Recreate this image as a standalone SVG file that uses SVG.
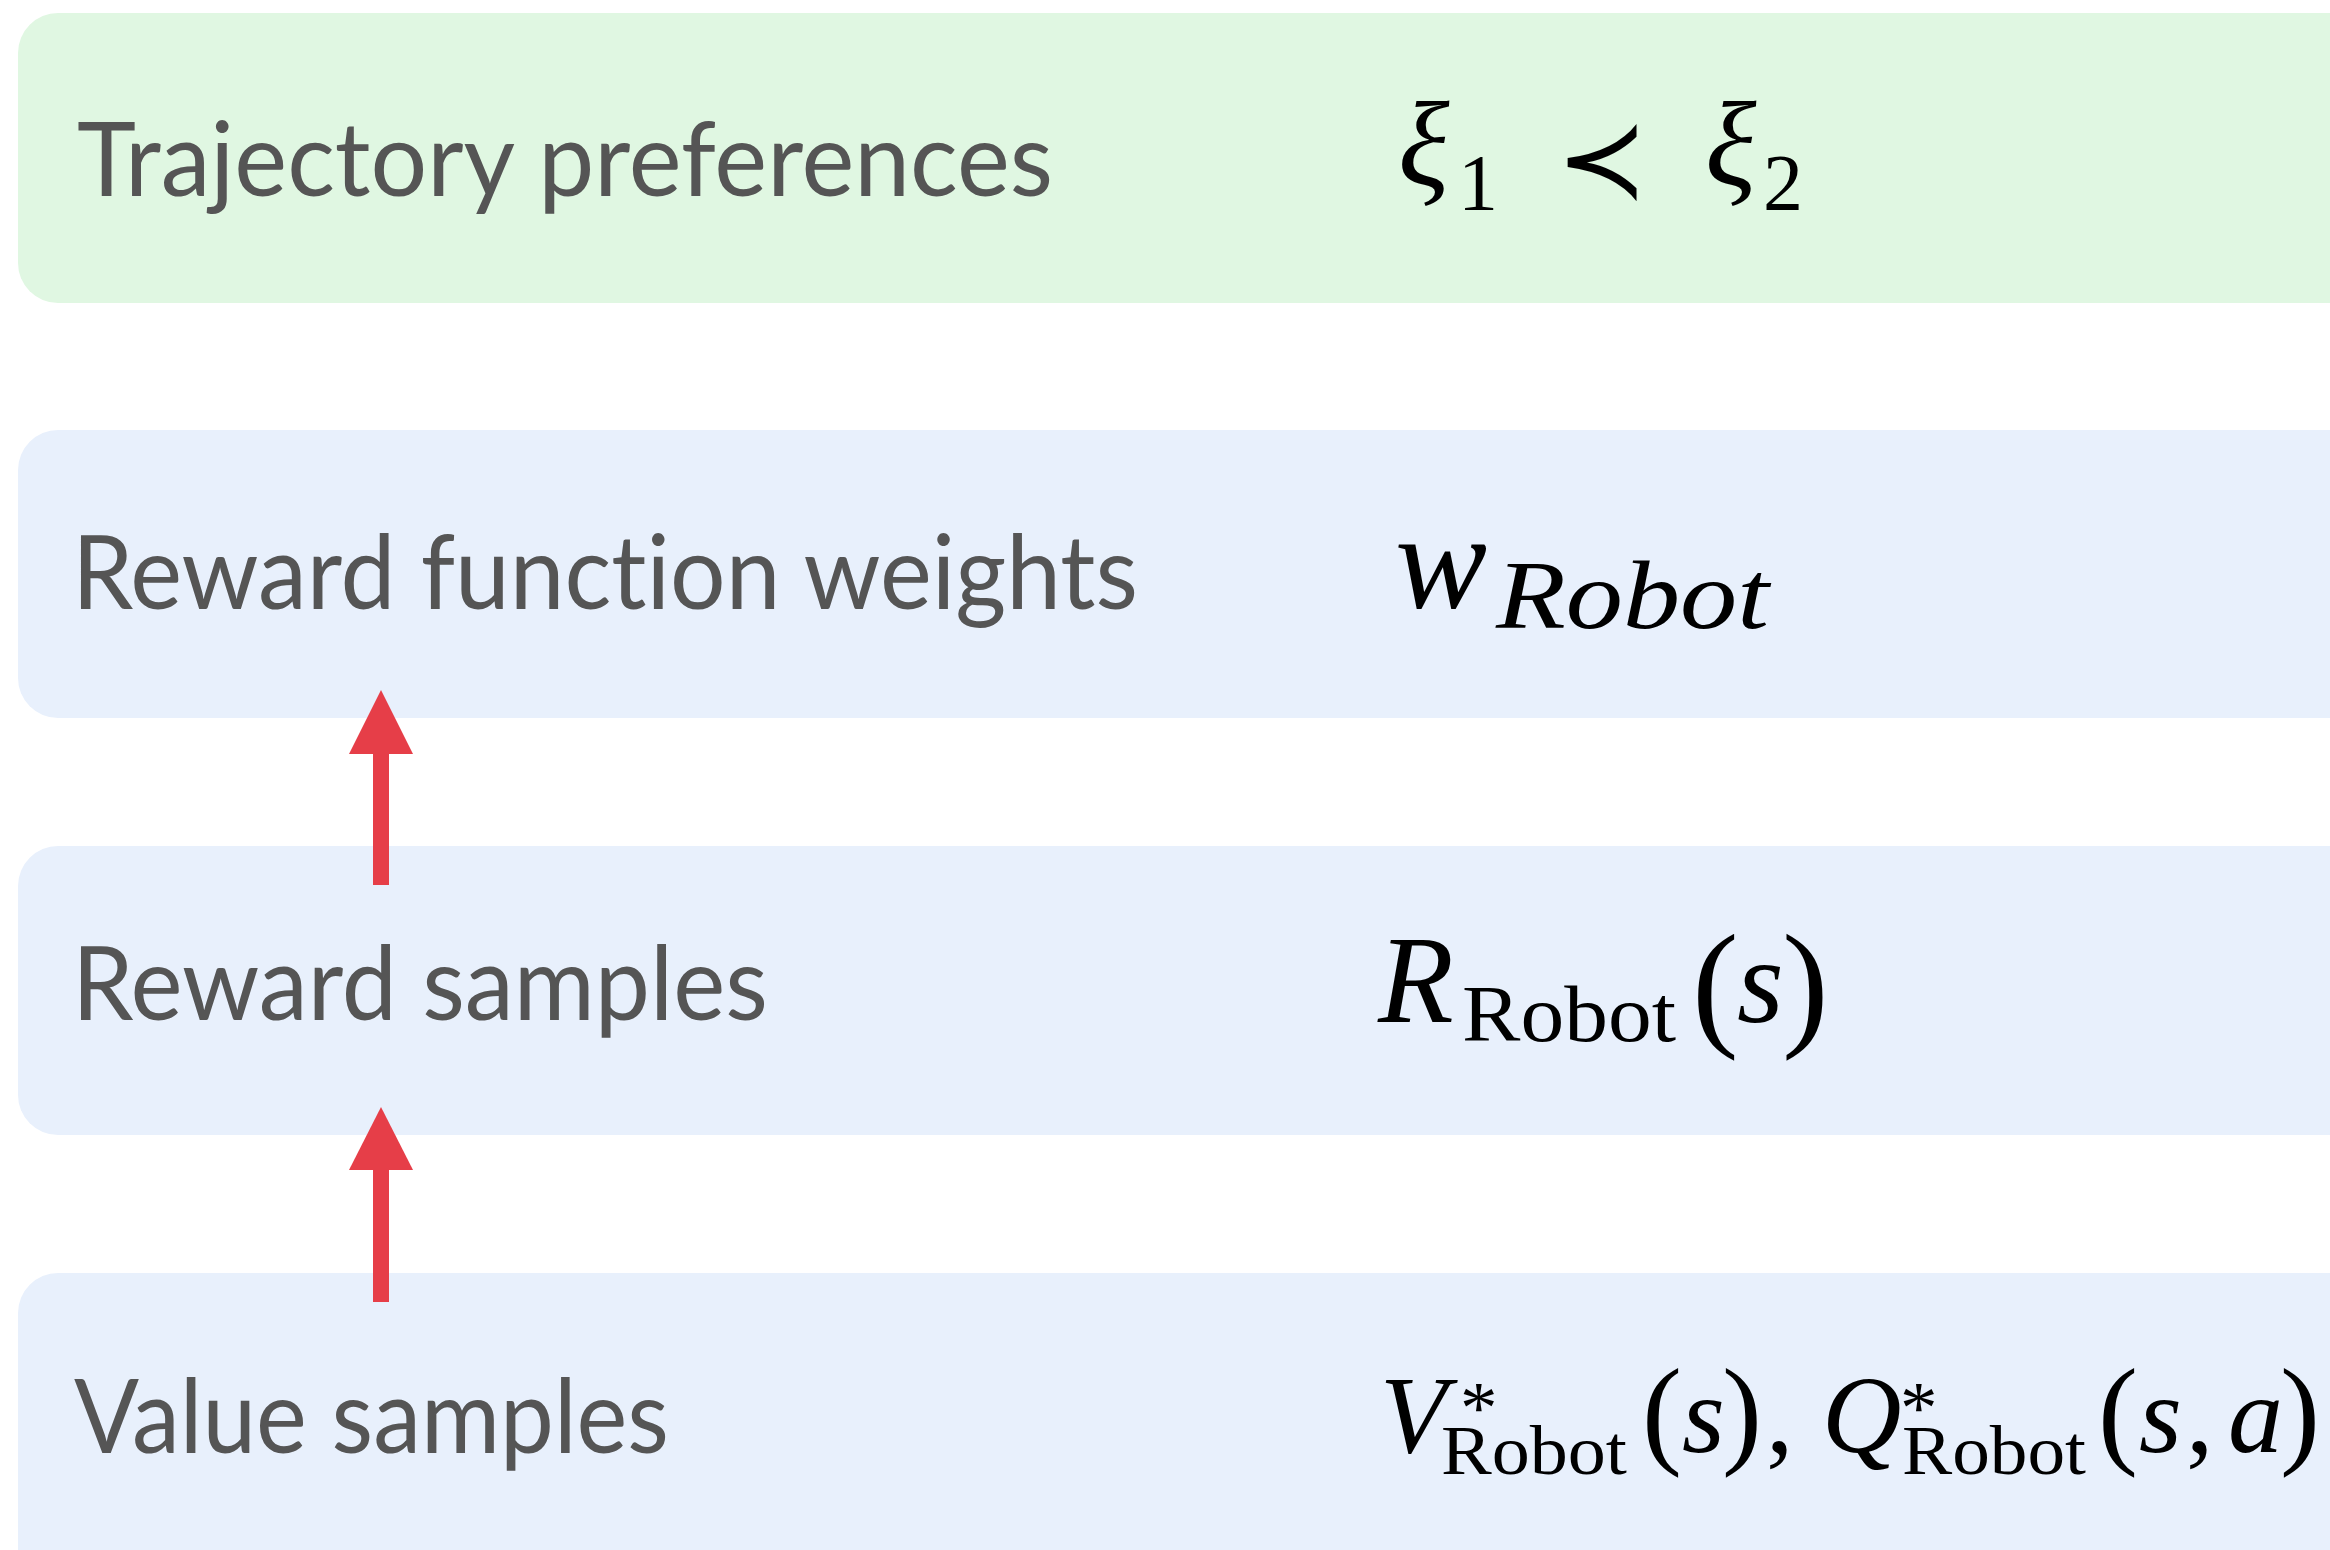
<svg xmlns="http://www.w3.org/2000/svg" width="2330" height="1550" viewBox="0 0 2330 1550">
<style>
.band-g{fill:#E0F7E2}
.band-b{fill:#E8F0FC}
.lbl{font-family:Lato,"Open Sans","Liberation Sans",sans-serif;font-size:102px;fill:#555555;font-variant-ligatures:none;font-feature-settings:"liga" 0,"clig" 0}
.m{font-family:"Liberation Serif","DejaVu Serif",serif;fill:#000}
.mi{font-family:"Liberation Serif","DejaVu Serif",serif;font-style:italic;fill:#000}
.arrow{fill:#E63E48}
</style>
<rect width="2330" height="1550" fill="#FFFFFF"/>
<g id="node-trajectory">
<rect class="band-g" x="18" y="13" width="2350" height="290" rx="40" ry="40"/>
<text class="lbl" x="77" y="196" textLength="976" lengthAdjust="spacingAndGlyphs">Trajectory preferences</text>
<text class="mi" x="1398" y="185" font-size="120">ξ</text>
<text class="m" x="1458" y="210" font-size="80">1</text>
<text class="m" x="1602" y="197" font-size="110" text-anchor="middle" style="font-family:'DejaVu Serif',serif">≺</text>
<text class="mi" x="1705" y="185" font-size="120">ξ</text>
<text class="m" x="1763" y="210" font-size="80">2</text>
</g>
<g id="node-weights">
<rect class="band-b" x="18" y="430" width="2350" height="288" rx="40" ry="40"/>
<text class="lbl" x="72" y="609" textLength="1066" lengthAdjust="spacingAndGlyphs">Reward function weights</text>
<text class="mi" x="1395" y="608" font-size="138">w</text>
<text class="mi" x="1496" y="628" font-size="98" textLength="273" lengthAdjust="spacingAndGlyphs">Robot</text>
</g>
<g id="node-reward">
<rect class="band-b" x="18" y="846" width="2350" height="289" rx="40" ry="40"/>
<text class="lbl" x="72" y="1020" textLength="696" lengthAdjust="spacingAndGlyphs">Reward samples</text>
<text class="mi" x="1378" y="1022" font-size="124">R</text>
<text class="m" x="1462" y="1041" font-size="80" textLength="214" lengthAdjust="spacingAndGlyphs">Robot</text>
<text class="m" x="1692" y="1031" font-size="140">(</text>
<text class="mi" x="1737" y="1022" font-size="120">s</text>
<text class="m" x="1782" y="1031" font-size="140">)</text>
</g>
<g id="node-value">
<rect class="band-b" x="18" y="1273" width="2350" height="320" rx="40" ry="40"/>
<text class="lbl" x="74" y="1453" textLength="595" lengthAdjust="spacingAndGlyphs">Value samples</text>
<text class="mi" x="1380" y="1452" font-size="110">V</text>
<text class="m" x="1460" y="1433" font-size="75">*</text>
<text class="m" x="1441" y="1474" font-size="70" textLength="186" lengthAdjust="spacingAndGlyphs">Robot</text>
<text class="m" x="1642" y="1452" font-size="120">(</text>
<text class="mi" x="1682" y="1452" font-size="110">s</text>
<text class="m" x="1722" y="1452" font-size="120">)</text>
<text class="m" x="1766" y="1452" font-size="110">,</text>
<text class="mi" x="1822" y="1452" font-size="110">Q</text>
<text class="m" x="1900" y="1433" font-size="75">*</text>
<text class="m" x="1902" y="1474" font-size="70" textLength="184" lengthAdjust="spacingAndGlyphs">Robot</text>
<text class="m" x="2098" y="1452" font-size="120">(</text>
<text class="mi" x="2139" y="1452" font-size="110">s</text>
<text class="m" x="2186" y="1452" font-size="110">,</text>
<text class="mi" x="2228" y="1452" font-size="110">a</text>
<text class="m" x="2280" y="1452" font-size="120">)</text>
</g>
<g id="connectors">
<g id="arrow-reward-to-weights">
<rect class="arrow" x="373" y="752" width="16" height="133"/>
<polygon class="arrow" points="349,754 413,754 381,690"/>
</g>
<g id="arrow-value-to-reward">
<rect class="arrow" x="373" y="1168" width="16" height="134"/>
<polygon class="arrow" points="349,1170 413,1170 381,1107"/>
</g>
</g>
</svg>
